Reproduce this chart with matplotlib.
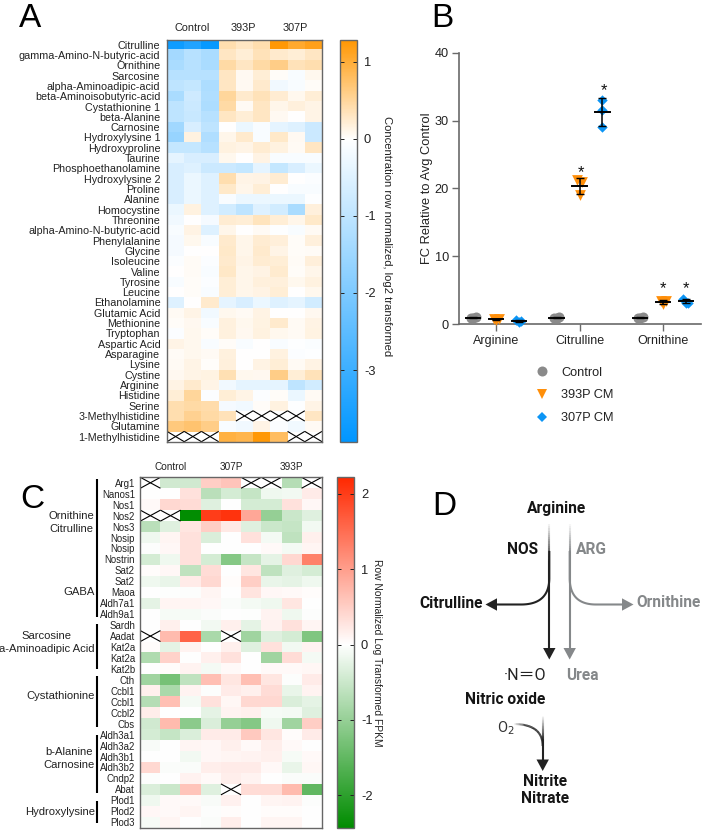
import numpy as np
import matplotlib
matplotlib.use("Agg")
import matplotlib.pyplot as plt
from matplotlib.colors import LinearSegmentedColormap, Normalize, to_rgb
from matplotlib.collections import LineCollection
from matplotlib.patches import Polygon
from matplotlib.lines import Line2D

plt.rcParams['font.family'] = ['Liberation Sans', 'DejaVu Sans']
plt.rcParams['axes.unicode_minus'] = False

W, H = 705, 831
n = np.nan

# ---------- Panel A data ----------
metabolites = ["Citrulline", "gamma-Amino-N-butyric-acid", "Ornithine", "Sarcosine", "alpha-Aminoadipic-acid",
               "beta-Aminoisobutyric-acid", "Cystathionine 1", "beta-Alanine", "Carnosine", "Hydroxylysine 1",
               "Hydroxyproline", "Taurine", "Phosphoethanolamine", "Hydroxylysine 2", "Proline", "Alanine",
               "Homocystine", "Threonine", "alpha-Amino-N-butyric-acid", "Phenylalanine", "Glycine", "Isoleucine",
               "Valine", "Tyrosine", "Leucine", "Ethanolamine", "Glutamic Acid", "Methionine", "Tryptophan",
               "Aspartic Acid", "Asparagine", "Lysine", "Cystine", "Arginine", "Histidine", "Serine",
               "3-Methylhistidine", "Glutamine", "1-Methylhistidine"]
groups_a = ["Control", "393P", "307P"]
values_a = [
    [-3.7, -3.4, -3.8, .4, .3, .4, 1.25, 1.05, 1.15],
    [-1.4, -1.1, -1.3, .3, .2, .35, .25, .2, .3],
    [-1.3, -1.1, -1.3, .45, .3, .45, .6, .35, .4],
    [-1.1, -1.1, -1.1, .3, .06, .2, .03, -.1, .08],
    [-1.0, -.9, -1.25, .3, .06, .25, -.2, -.1, .03],
    [-1.3, -.75, -1.2, .5, .25, .35, .22, .08, .2],
    [-1.0, -.8, -1.25, .45, .05, .3, .1, .17, .12],
    [-1.0, -.85, -1.1, .3, .2, .3, .06, 0, .12],
    [-1.45, -.6, -1.0, 0, -.3, -.1, -.4, -.5, -.8],
    [-1.6, .15, -1.2, .1, .25, -.1, .27, .06, -.8],
    [-.9, -.9, -1.1, .15, .12, .22, .15, .05, .3],
    [-.4, -.6, -.6, .08, 0, .13, -.1, -.1, -.1],
    [-.6, -.5, -.8, -.8, -.9, -.4, -.9, -.6, -.3],
    [-.6, -.3, -.5, .4, .12, .13, .22, 0, -.05],
    [-.6, -.3, -.5, .27, .1, .2, 0, -.1, -.1],
    [-.6, -.3, -.5, -.1, -.3, -.3, -.3, -.3, -.03],
    [-.3, .15, -.5, -.7, -1.0, -.5, -.7, -1.3, .17],
    [-.2, 0, -.15, .22, .2, .33, .2, .1, .27],
    [-.1, .13, -.5, .1, 0, .05, -.03, -.1, .05],
    [-.15, .08, -.1, .25, .1, .22, .18, .03, .17],
    [-.15, 0, 0, .27, .1, .25, .12, .03, .04],
    [-.05, .04, -.05, .25, .12, .22, .2, .04, .18],
    [0, .04, -.1, .28, .1, .13, .23, .03, .1],
    [-.1, .03, -.05, .2, .1, .17, .17, .08, .15],
    [0, .03, -.1, .2, .1, .13, .2, 0, .08],
    [-.5, 0, .25, -.4, -.6, -.3, -.5, -.4, -.7],
    [.05, .12, -.2, .08, .05, .13, 0, 0, .07],
    [.03, .07, -.1, .16, .08, .14, .25, .05, .13],
    [-.05, .08, .03, .16, .07, .15, .08, .05, .14],
    [.12, .08, -.1, .03, -.1, 0, -.1, -.03, -.07],
    [.04, .08, .05, .16, 0, 0, .15, -.06, -.02],
    [.05, .12, .02, .17, 0, .13, .2, .05, .13],
    [.07, .12, .14, .38, .08, .07, .6, .2, .35],
    [.13, .25, .12, -.2, -.4, -.4, -.4, -1.0, -.7],
    [.2, .5, -.05, .2, .12, -.05, .03, -.3, .05],
    [.4, .45, .42, -.15, -.2, .03, .15, -.02, .12],
    [.4, .55, .45, .35, n, n, n, n, .3],
    [.65, .72, .6, -.1, -.2, .12, -.05, -.2, .05],
    [n, n, n, .95, .9, 1.25, .8, n, n],
]
cbar_a_ticks = [1, 0, -1, -2, -3]

# ---------- Panel C data ----------
genes = ["Arg1", "Nanos1", "Nos1", "Nos2", "Nos3", "Nosip", "Nosip", "Nostrin", "Sat2", "Sat2", "Maoa", "Aldh7a1",
         "Aldh9a1", "Sardh", "Aadat", "Kat2a", "Kat2a", "Kat2b", "Cth", "Ccbl1", "Ccbl1", "Ccbl2", "Cbs", "Aldh3a1",
         "Aldh3a2", "Aldh3b1", "Aldh3b2", "Cndp2", "Abat", "Plod1", "Plod2", "Plod3"]
groups_c = ["Control", "307P", "393P"]
values_c = [
    [n, -.45, -.45, .5, .6, n, n, -.7, n],
    [0, 0, .3, -.65, -.4, -.55, -.15, -.12, .2],
    [.05, .4, .35, -.3, 0, -.4, -.4, .3, .07],
    [n, n, -2.4, 2.0, 2.1, .9, -1.0, -.5, -.3],
    [-.65, -.3, .25, .5, .22, -.3, -.5, -.55, -.12],
    [-.15, .1, .3, -.35, 0, .3, -.1, -.6, .15],
    [-.03, .07, .3, 0, 0, 0, .05, -.1, .1],
    [-.4, -.15, .3, -.4, -1.15, -.55, -.25, .4, 1.3],
    [.03, .07, -.6, .35, 0, .25, -.6, -.3, -.4],
    [-.15, -.2, .2, .4, .03, .5, -.2, -.25, -.15],
    [0, -.02, -.03, .1, 0, .27, .07, .05, .03],
    [-.25, .1, .1, .07, -.05, -.1, -.15, .25, 0],
    [0, -.08, -.08, -.05, 0, -.02, .12, -.15, -.03],
    [0, .15, 0, -.12, .15, -.25, .13, .3, .1],
    [n, .7, 1.6, -.8, n, -.9, -.3, -.4, -1.2],
    [.03, -.25, .12, 0, .15, -.3, .3, -.12, .12],
    [-.75, .45, 0, .15, .3, 0, -.9, .35, -.1],
    [0, .03, .12, -.1, .05, 0, .05, .05, .08],
    [-.9, -1.3, -.6, .65, .25, .65, .25, -.03, .2],
    [.15, -.8, .12, -.03, .2, .15, .35, -.2, .12],
    [-.7, .65, -.1, .3, .08, .4, .4, -.35, -.25],
    [.18, 0, 0, -.25, .12, .15, -.08, -.1, -.3],
    [-.45, .7, -1.1, -.35, -1.0, -1.15, -.15, -.9, .5],
    [-.4, -.55, -.35, .2, .2, .55, .25, .03, .2],
    [-.06, 0, .1, .07, .15, .05, .17, .05, 0],
    [0, 0, -.12, .07, .1, .12, .15, -.08, .05],
    [.4, -.05, -.05, .17, .2, .2, .06, -.2, .08],
    [-.03, 0, .13, .05, .17, .12, 0, -.05, -.05],
    [-.35, -.5, .6, -.3, n, .35, .35, .7, -1.5],
    [-.15, .05, .05, -.06, .14, 0, .1, .12, -.03],
    [.07, .05, .1, -.03, .03, 0, .03, .03, 0],
    [-.08, .1, 0, -.05, .17, 0, .1, .1, 0],
]
cbar_c_ticks = [2, 1, 0, -1, -2]
# pathway groups: label lines, first row, last row
pathways = [(["Ornithine", "Citrulline"], 0, 7), (["GABA"], 8, 12), (["Sarcosine", "a-Aminoadipic Acid"], 13, 17),
            (["Cystathionine"], 18, 22), (["b-Alanine", "Carnosine"], 23, 28), (["Hydroxylysine"], 29, 31)]

# ---------- Panel B data ----------
amino_acids = ["Arginine", "Citrulline", "Ornithine"]
control_fc = [[1.0, 1.05, .95], [1.0, 1.1, .9], [1.0, 1.1, .9]]
p393_fc = [[.8, .8, .6], [21.2, 21.0, 19.0], [3.5, 3.4, 3.0]]
p307_fc = [[.6, .5, .4], [33.1, 31.5, 29.0], [3.7, 3.2, 3.2]]
star_393 = [None, 22.3, 5.2]
star_307 = [None, 34.4, 5.2]

C_GREY, C_ORANGE, C_BLUE = '#8a8a8a', '#FF8F0A', '#0C95F5'

# layout tweaks for the pathway brackets (in rows, from cell edges) and their labels
bracket_top = [.15, 0, .4, .15, .5, .6]
bracket_bottom = [0, .2, .5, .2, .2, .4]
label_shift = [.15, 0, -.4, -.5, -.3, .05]


def pxax(x0, y0, x1, y1, **kw):
    return fig.add_axes([x0 / W, 1 - y1 / H, (x1 - x0) / W, (y1 - y0) / H], **kw)


def diverging(low, high, vmin, vmax):
    mid = (0 - vmin) / (vmax - vmin)
    return LinearSegmentedColormap.from_list('d', [(0, low), (mid, 'white'), (1, high)], N=512)


FRAME = '#666666'


def heatmap(ax, vals, cmap, norm):
    arr = np.array(vals, float)
    ax.imshow(np.ma.masked_invalid(arr), cmap=cmap, norm=norm, aspect='auto', interpolation='nearest')
    ax.set_xlim(-.5, arr.shape[1] - .5)
    ax.set_ylim(arr.shape[0] - .5, -.5)
    for r, c in zip(*np.where(np.isnan(arr))):
        ax.plot([c - .5, c + .5], [r - .5, r + .5], color='black', lw=.8, solid_capstyle='butt')
        ax.plot([c - .5, c + .5], [r + .5, r - .5], color='black', lw=.8, solid_capstyle='butt')
    ax.set_xticks([])
    ax.yaxis.set_ticks_position('left')
    for s in ax.spines.values():
        s.set_color(FRAME)
        s.set_linewidth(1.0)


def colorbar(cax, cmap, norm, ticks, label, label_x, label_y, label_size):
    sm = plt.cm.ScalarMappable(norm=norm, cmap=cmap)
    cb = fig.colorbar(sm, cax=cax)
    cb.set_ticks(ticks)
    cb.set_ticklabels([str(t) for t in ticks])
    cb.ax.tick_params(length=3, width=.7, labelsize=9.3, direction='in', colors='#222222', right=True, left=True, pad=5)
    cb.outline.set_edgecolor(FRAME)
    cb.outline.set_linewidth(1.0)
    fig.text(label_x / W, 1 - label_y / H, label, rotation=270, ha='center', va='center', fontsize=label_size,
             color='#222222')


def panel(letter, x, baseline):
    fig.text(x / W, 1 - baseline / H, letter, fontsize=24, ha='left', va='baseline', color='black')


fig = plt.figure(figsize=(W / 100, H / 100), dpi=100, facecolor='white')

# ---------- A ----------
panel("A", 18.5, 27)
ax_a = pxax(167, 39.5, 322, 441.7)
vmin_a, vmax_a = -3.93, 1.29
norm_a = Normalize(vmin_a, vmax_a)
cmap_a = diverging('#0096FF', '#FF9600', vmin_a, vmax_a)
heatmap(ax_a, values_a, cmap_a, norm_a)
ax_a.set_yticks(range(len(metabolites)))
ax_a.set_yticklabels(metabolites, fontsize=7.75, color='#222222')
ax_a.tick_params(axis='y', length=0, pad=4.8)
for i, g in enumerate(groups_a):
    ax_a.text(1 + 3 * i - .05, -1.6, g, ha='center', va='center', fontsize=7.8, color='#222222')
colorbar(pxax(339.5, 39.5, 357, 441.7), cmap_a, norm_a, cbar_a_ticks,
         "Concentration row normalized, log2 transformed", 387, 236, 8.15)

# ---------- C ----------
panel("C", 20, 508)
ax_c = pxax(140.3, 477.3, 321.7, 827.7)
vmin_c, vmax_c = -2.43, 2.22
norm_c = Normalize(vmin_c, vmax_c)
cmap_c = diverging('#008C00', '#FF2800', vmin_c, vmax_c)
heatmap(ax_c, values_c, cmap_c, norm_c)
ax_c.set_yticks(range(len(genes)))
ax_c.set_yticklabels(genes, fontsize=6.9, color='#222222')
ax_c.tick_params(axis='y', length=0, pad=3.8)
for i, g in enumerate(groups_c):
    ax_c.text(1 + 3 * i, -1.46, g, ha='center', va='center', fontsize=7.2, color='#222222')
trans_c = matplotlib.transforms.blended_transform_factory(fig.transFigure, ax_c.transData)
for (lines, r0, r1), top, bot, shift in zip(pathways, bracket_top, bracket_bottom, label_shift):
    ax_c.add_line(Line2D([96.6 / W] * 2, [r0 - .5 + top, r1 + .5 - bot], transform=trans_c, color='black', lw=1.5,
                         solid_capstyle='butt', clip_on=False))
    ax_c.text(94.7 / W, (r0 + r1) / 2 + shift, "\n".join(lines), transform=trans_c, ha='right', va='center',
              multialignment='center', fontsize=8.1, linespacing=1.4, color='#222222', clip_on=False)
colorbar(pxax(337, 477.3, 354, 827.7), cmap_c, norm_c, cbar_c_ticks,
         "Row Normalized Log Transformed FPKM", 377, 653, 7.4)

# ---------- B ----------
panel("B", 431.5, 27)
ax_b = pxax(458.7, 52.7, 701, 324.3)
ax_b.set_xlim(-.447, 2.455)
ax_b.set_ylim(0, 40)
ax_b.patch.set_alpha(0)
for s in ('top', 'right'):
    ax_b.spines[s].set_visible(False)
for s in ('left', 'bottom'):
    ax_b.spines[s].set_color('#6a6a6a')
    ax_b.spines[s].set_linewidth(1.2)
ax_b.set_xticks(range(3))
ax_b.set_xticklabels(amino_acids)
ax_b.set_yticks([0, 10, 20, 30, 40])
ax_b.tick_params(axis='both', length=5, width=1, color='#6a6a6a', labelsize=9.0, labelcolor='#222222', pad=3)
ax_b.tick_params(axis='y', labelsize=9.2, pad=2)
ax_b.set_ylabel("FC Relative to Avg Control", fontsize=9.3, color='#222222', labelpad=1)

series = [(control_fc, -.275, C_GREY, 'o', 52, 'Control', None, (1, 1, 1)),
          (p393_fc, 0, C_ORANGE, 'v', 60, '393P CM', star_393, (1, 1, 1)),
          (p307_fc, .275, C_BLUE, 'D', 28, '307P CM', star_307, (1, 0, 1))]
jitter = np.array([-.03, .03, 0])
for vals, off, col, mk, size, name, stars, jit in series:
    for i, v in enumerate(vals):
        v = np.array(v)
        x = i + off
        ax_b.scatter(x + jitter * jit[i], v, s=size, marker=mk, color=col, linewidths=0, clip_on=False, zorder=3)
        m, sd = v.mean(), v.std(ddof=1)
        ax_b.plot([x - .085, x + .085], [m, m], color='black', lw=1.4, zorder=4, clip_on=False)
        ax_b.errorbar([x], [m], yerr=[sd], color='black', lw=1.1, capsize=2.8, capthick=1.0, zorder=4, clip_on=False)
        if stars is not None and stars[i] is not None:
            ax_b.text(x + (.015 if i == 1 else 0), stars[i], "*", ha='center', va='center', fontsize=12,
                      color='#111111')
handles = [Line2D([], [], ls='', marker=s[3], color=s[2], markersize=ms, markeredgewidth=0)
           for s, ms in zip(series, [7.2, 7.6, 5.0])]
ax_b.legend(handles, [s[5] for s in series], loc='center left', bbox_to_anchor=(529 / W, 1 - 395.5 / H),
            bbox_transform=fig.transFigure, frameon=False, fontsize=9.2, labelspacing=.85, handletextpad=.5,
            labelcolor='#222222', borderpad=0, borderaxespad=0)

# ---------- D ----------
panel("D", 432, 515)
ov = fig.add_axes([0, 0, 1, 1], facecolor='none')
ov.set_xlim(0, W)
ov.set_ylim(H, 0)
ov.axis('off')
BLK, GRY = '#222222', '#85888a'


def faded(pts, color, lw, fade):
    pts = np.asarray(pts)
    d = np.r_[0, np.cumsum(np.hypot(*np.diff(pts, axis=0).T))]
    rgb = to_rgb(color)
    cols = [(*rgb, min(1, di / fade)) for di in d[:-1]]
    segs = np.stack([pts[:-1], pts[1:]], axis=1)
    ov.add_collection(LineCollection(segs, colors=cols, linewidths=lw, capstyle='butt'))


def vline(x, y0, y1, n_pts=60):
    return np.column_stack([np.full(n_pts, x), np.linspace(y0, y1, n_pts)])


def curve(p0, c, p1, n_pts=40):
    t = np.linspace(0, 1, n_pts)[:, None]
    p0, c, p1 = map(np.array, (p0, c, p1))
    return (1 - t) ** 2 * p0 + 2 * t * (1 - t) * c + t ** 2 * p1


def head(tip, direction, color, L=11.5, Wd=6.2):
    tip = np.array(tip, float)
    d = np.array(direction, float)
    p = np.array([-d[1], d[0]])
    base = tip - d * L
    ov.add_patch(Polygon([tip, base + p * Wd, base - p * Wd], closed=True, color=color, lw=0))


# NOS arm
xn, xa = 549.3, 569.7
faded(vline(xn, 522, 649), BLK, 1.5, 40)
head((xn, 659.5), (0, 1), BLK)
path = np.vstack([vline(xn, 552, 578, 10), curve((xn, 578), (xn, 604.5), (521, 604.5)),
                  [[498, 604.5]]])
ov.plot(path[:, 0], path[:, 1], color=BLK, lw=1.5)
head((485.5, 604.5), (-1, 0), BLK)
# ARG arm
faded(vline(xa, 522, 649), GRY, 1.5, 30)
head((xa, 659.5), (0, 1), GRY)
path = np.vstack([vline(xa, 552, 578, 10), curve((xa, 578), (xa, 604.5), (596, 604.5)),
                  [[622, 604.5]]])
ov.plot(path[:, 0], path[:, 1], color=GRY, lw=1.5)
head((633.5, 604.5), (1, 0), GRY)
# nitrate arm
faded(vline(542.7, 715, 760), BLK, 1.5, 25)
head((542.7, 771), (0, 1), BLK)
faded(np.vstack([curve((513, 724), (542.7, 724), (542.7, 746))]), BLK, 1.5, 14)

bold = dict(family='Roboto', fontweight='bold', fontsize=11.2, ha='center', va='center')
ov.text(556.7, 508, "Arginine", color='#151515', **bold)
ov.text(522.7, 550, "NOS", color='#151515', **bold)
ov.text(591.7, 550, "ARG", color=GRY, **bold)
ov.text(451.5, 603.5, "Citrulline", color='#151515', **bold)
ov.text(669, 602.5, "Ornithine", color=GRY, **bold)
ov.text(582, 675, "Urea", color=GRY, **bold)
ov.text(505, 699, "Nitric oxide", color='#151515', **bold)
ov.text(545, 781, "Nitrite", color='#151515', **bold)
ov.text(545, 798.5, "Nitrate", color='#151515', **bold)
ov.text(525, 675, "\u00b7N\uff1dO", family=['Roboto', 'Noto Sans CJK SC', 'DejaVu Sans'], fontsize=11.5, ha='center', va='center', color='#222222')
ov.text(505.5, 728, "O$_2$", family='Roboto', fontsize=10.5, ha='center', va='center', color='#333333', math_fontfamily='dejavusans')

fig.savefig("out.png", dpi=100)
